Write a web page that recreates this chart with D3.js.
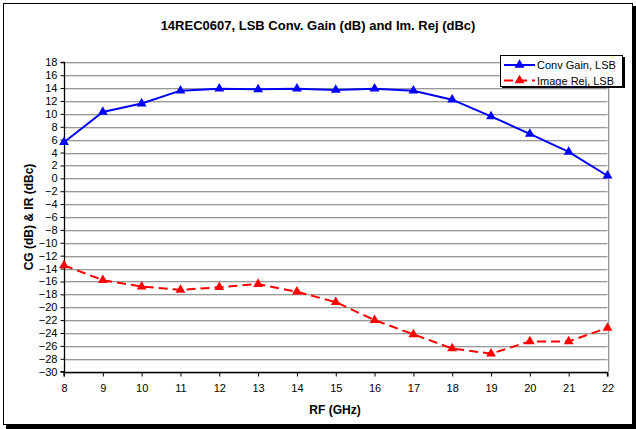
<!DOCTYPE html>
<html>
<head>
<meta charset="utf-8">
<script src="https://cdn.jsdelivr.net/npm/d3@7"></script>
<style>
  html, body { margin: 0; padding: 0; background: #fff; }
  svg { display: block; font-family: Arial, "Liberation Sans", sans-serif; }
</style>
</head>
<body>
<div id="chart"></div>
<script>
const rfGHz = [8, 9, 10, 11, 12, 13, 14, 15, 16, 17, 18, 19, 20, 21, 22];
const convGainLSB = [5.6, 10.3, 11.6, 13.6, 13.9, 13.8, 13.9, 13.7, 13.9, 13.6, 12.2, 9.6, 6.9, 4.1, 0.4];
const imageRejLSB = [-13.5, -15.8, -16.8, -17.3, -16.9, -16.4, -17.6, -19.2, -22.0, -24.2, -26.4, -27.2, -25.3, -25.3, -23.2];
const yTicks = d3.range(-30, 19, 2);
const xTicks = d3.range(8, 23, 1);
const seriesNames = ["Conv Gain, LSB", "Image Rej, LSB"];
const titleText = "14REC0607, LSB Conv. Gain (dB) and Im. Rej (dBc)";
const xTitle = "RF (GHz)";
const yTitle = "CG (dB) & IR (dBc)";

const W = 636, H = 429;
const svg = d3.select("#chart").append("svg").attr("width", W).attr("height", H);

// outer frame with shadow
svg.append("rect").attr("x", 6).attr("y", 6).attr("width", 630).attr("height", 423).attr("fill", "#000");
svg.append("rect").attr("x", 3.5).attr("y", 3.5).attr("width", 629).attr("height", 421)
  .attr("fill", "#fff").attr("stroke", "#000").attr("stroke-width", 1);

const L = 64, R = 607.5, T = 62.3, B = 371.7;
const x = d3.scaleLinear().domain([8, 22]).range([L, R]);
const y = d3.scaleLinear().domain([-30, 18]).range([B, T]);

// gridlines
const g = svg.append("g");
g.selectAll("line.grid").data(yTicks).enter().append("line")
  .attr("x1", L).attr("x2", R)
  .attr("y1", d => Math.round(y(d)) + 0.5).attr("y2", d => Math.round(y(d)) + 0.5)
  .attr("stroke", "#999").attr("stroke-width", 1);
g.selectAll("line.grid2").data(yTicks).enter().append("line")
  .attr("x1", L).attr("x2", R)
  .attr("y1", d => Math.round(y(d)) + 1.5).attr("y2", d => Math.round(y(d)) + 1.5)
  .attr("stroke", "#ddd").attr("stroke-width", 1);
// plot area right border
g.append("line").attr("x1", Math.round(R) + 0.5).attr("x2", Math.round(R) + 0.5)
  .attr("y1", T).attr("y2", B).attr("stroke", "#999");
g.append("line").attr("x1", Math.round(R) + 1.5).attr("x2", Math.round(R) + 1.5)
  .attr("y1", T).attr("y2", B).attr("stroke", "#ddd");

// axes
const yAxis = d3.axisLeft(y).tickValues(yTicks).tickSize(4).tickPadding(3).tickFormat(d3.format("d"));
const yg = svg.append("g").attr("transform", `translate(${Math.round(L) + 0.5},0)`).call(yAxis);
const xAxis = d3.axisBottom(x).tickValues(xTicks).tickSize(4).tickPadding(8).tickFormat(d3.format("d"));
const xg = svg.append("g").attr("transform", `translate(0,${Math.round(B) + 0.5})`).call(xAxis);
[yg, xg].forEach(a => {
  a.select(".domain").attr("stroke", "#000").attr("stroke-width", 1.3);
  a.selectAll(".tick line").attr("stroke", "#000");
  a.selectAll("text").attr("font-size", "11px").attr("fill", "#000")
    .attr("font-family", "Arial, 'Liberation Sans', sans-serif");
});
yg.select(".domain").attr("d", `M-4,${T}H0V${B}H-4`);
xg.select(".domain").attr("d", `M${L},4V0H${R}V4`);

// lines
const line = d3.line().x((d, i) => x(rfGHz[i])).y(d => y(d));
const tri = d3.symbol().type(d3.symbolTriangle).size(42);

svg.append("path").datum(convGainLSB).attr("d", line)
  .attr("fill", "none").attr("stroke", "#0000ff").attr("stroke-width", 2);
svg.append("path").datum(imageRejLSB).attr("d", line)
  .attr("fill", "none").attr("stroke", "#ff0000").attr("stroke-width", 2)
  .attr("stroke-dasharray", "9,5");

svg.selectAll("path.m1").data(convGainLSB).enter().append("path")
  .attr("d", tri).attr("fill", "#0000ff")
  .attr("transform", (d, i) => `translate(${x(rfGHz[i])},${y(d)})`);
svg.selectAll("path.m2").data(imageRejLSB).enter().append("path")
  .attr("d", tri).attr("fill", "#ff0000")
  .attr("transform", (d, i) => `translate(${x(rfGHz[i])},${y(d)})`);

// titles
svg.append("text").attr("x", 318).attr("y", 30).attr("text-anchor", "middle")
  .attr("font-size", "13px").attr("font-weight", "bold").text(titleText);
svg.append("text").attr("x", 335).attr("y", 414).attr("text-anchor", "middle")
  .attr("font-size", "12px").attr("font-weight", "bold").text(xTitle);
svg.append("text").attr("transform", "translate(33,217) rotate(-90)").attr("text-anchor", "middle")
  .attr("font-size", "12px").attr("font-weight", "bold").text(yTitle);

// legend
const lg = svg.append("g");
lg.append("rect").attr("x", 502).attr("y", 57).attr("width", 123).attr("height", 31).attr("fill", "#000");
lg.append("rect").attr("x", 500.5).attr("y", 55.5).attr("width", 122).attr("height", 31)
  .attr("fill", "#fff").attr("stroke", "#000");
const colors = ["#0000ff", "#ff0000"];
seriesNames.forEach((name, i) => {
  const cy = 65 + i * 15.5;
  lg.append("line").attr("x1", 504).attr("x2", 535).attr("y1", cy).attr("y2", cy)
    .attr("stroke", colors[i]).attr("stroke-width", 2)
    .attr("stroke-dasharray", i === 1 ? "9,5" : null);
  lg.append("path").attr("d", tri).attr("fill", colors[i])
    .attr("transform", `translate(519.5,${cy})`);
  lg.append("text").attr("x", 537).attr("y", cy + 4).attr("font-size", "11px").text(name);
});
</script>
</body>
</html>
